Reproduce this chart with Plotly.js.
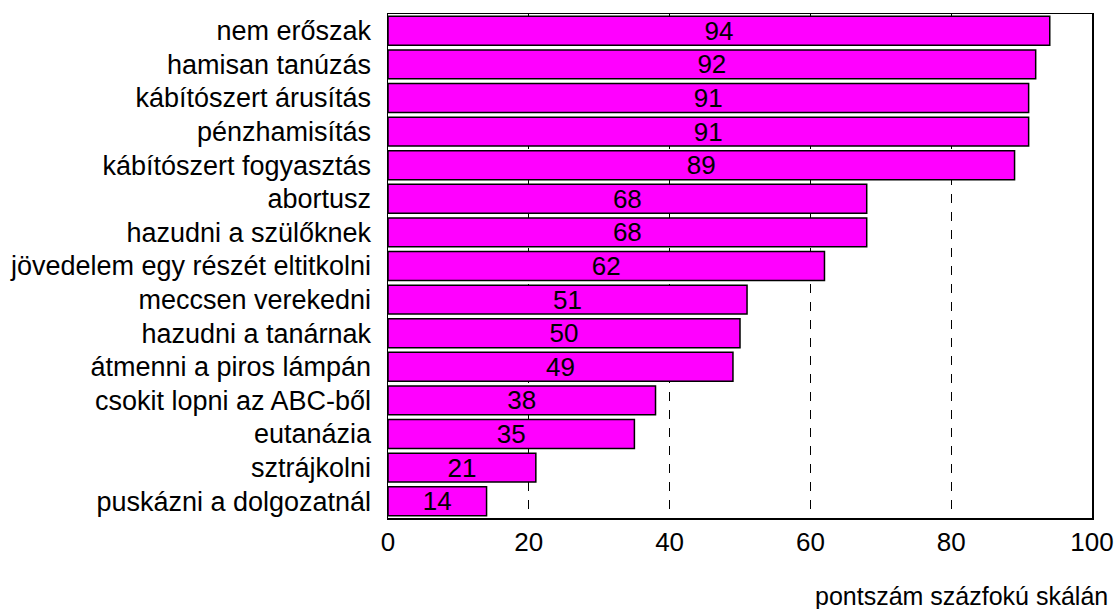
<!DOCTYPE html>
<html><head><meta charset="utf-8">
<script src="https://cdn.plot.ly/plotly-3.0.1.min.js"></script>
<style>html,body{margin:0;padding:0;background:#fff}</style>
</head><body><div id="c" style="width:1115px;height:609px"></div>
<script>
const categories = ["nem erőszak","hamisan tanúzás","kábítószert árusítás","pénzhamisítás","kábítószert fogyasztás","abortusz","hazudni a szülőknek","jövedelem egy részét eltitkolni","meccsen verekedni","hazudni a tanárnak","átmenni a piros lámpán","csokit lopni az ABC-ből","eutanázia","sztrájkolni","puskázni a dolgozatnál"];
const scores = [94,92,91,91,89,68,68,62,51,50,49,38,35,21,14];
const xTicks = [0,20,40,60,80,100];
const xTitle = "pontszám százfokú skálán";

const F = "Liberation Sans, Arial, sans-serif";
Plotly.newPlot("c", [{
  type: "bar", orientation: "h",
  y: categories, x: scores,
  text: scores.map(String), textposition: "inside", insidetextanchor: "middle",
  textangle: 0, constraintext: "none",
  textfont: {family: F, size: 26, color: "#000"},
  marker: {color: "#FF00FF", line: {color: "#000", width: 1.5}},
  hoverinfo: "none", cliponaxis: false
}], {
  width: 1115, height: 609,
  margin: {l: 388, r: 23, t: 14, b: 91},
  paper_bgcolor: "#fff", plot_bgcolor: "#fff",
  bargap: 0.14,
  showlegend: false,
  font: {family: F, size: 26, color: "#000"},
  xaxis: {range: [0, 100], tickvals: xTicks, ticktext: xTicks.map(String),
    showgrid: true, gridcolor: "#000", gridwidth: 1, griddash: "dash",
    zeroline: false, showline: true, linecolor: "#000", linewidth: 1.5, mirror: true,
    ticks: "", ticklabelstandoff: 0, tickfont: {family: F, size: 26}, fixedrange: true},
  yaxis: {autorange: "reversed", showline: true, linecolor: "#000", linewidth: 1.5, mirror: true,
    ticks: "", ticklabelstandoff: 10, tickfont: {family: F, size: 27}, showgrid: false, fixedrange: true},
  annotations: [{text: xTitle, xref: "paper", yref: "paper", x: 1.026, y: -0.155,
    xanchor: "right", yanchor: "middle", showarrow: false, font: {family: F, size: 25, color: "#000"}}]
}, {displayModeBar: false, staticPlot: true});
</script></body></html>
